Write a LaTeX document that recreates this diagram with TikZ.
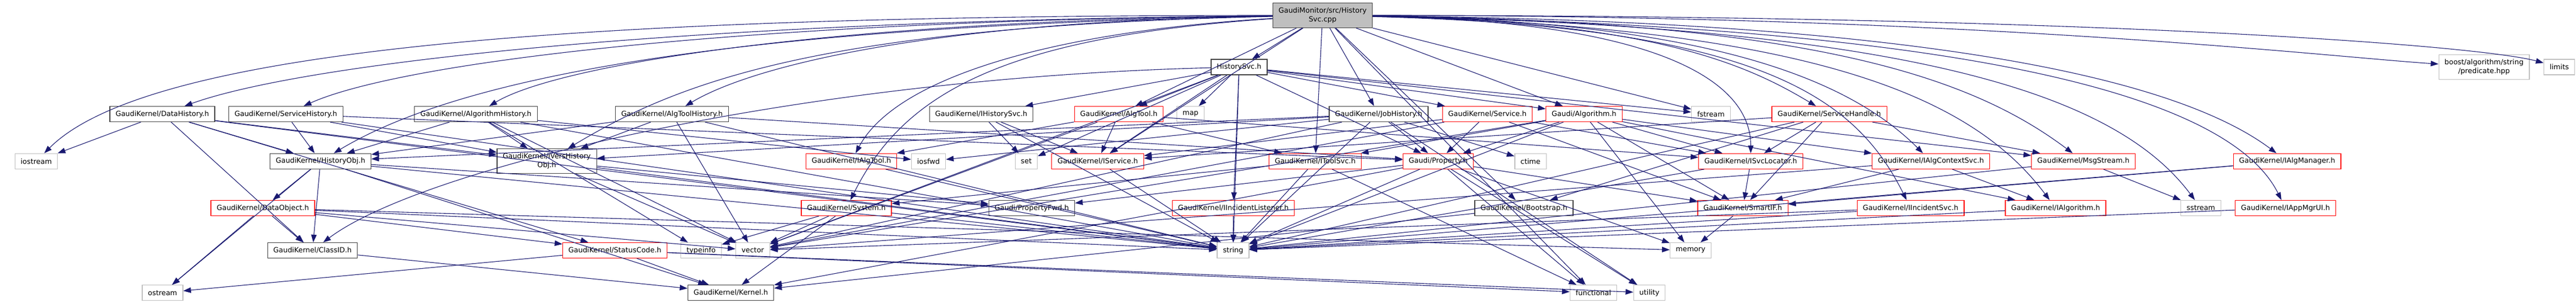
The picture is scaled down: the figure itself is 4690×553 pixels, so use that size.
\documentclass[tikz,border=0pt]{standalone}
\usepackage{fontspec}
\setmainfont{DejaVu Sans}
\usetikzlibrary{arrows.meta}
\definecolor{edgeblue}{HTML}{191970}
\definecolor{sysgray}{HTML}{BFBFBF}
\definecolor{docgray}{HTML}{404040}
\tikzset{
every node/.style={ % Sets the properties for each file box
font=\fontsize{12.9}{16}\selectfont,
align=center,
inner xsep=10.5pt,
inner ysep=4pt,
minimum height=28pt,
line width=1.2pt},
file/.style={draw=docgray},
trunc/.style={draw=red}, % Red boxes: not all includes shown
sys/.style={draw=sysgray},
mainfile/.style={draw=docgray, fill=sysgray},
tall/.style={minimum height=45pt},
incl/.style={ % Sets the properties for each include
draw=edgeblue,
-{Triangle[length=14pt,width=10pt]},
line width=1.1pt},
every edge/.style={incl}}
\begin{document}
\begin{tikzpicture}[x=1pt,y=-1pt]
\useasboundingbox (0,0) rectangle (4690,553);
% top
\node[mainfile, tall] (root) at (2408,28) {GaudiMonitor/src/History\\Svc.cpp};
\node[file] (hsvc) at (2256,122) {HistorySvc.h};
\node[sys, tall] (boost) at (4522.5,122) {boost/algorithm/string\\/predicate.hpp};
\node[sys] (limits) at (4659.5,122) {limits};
% row 1
\node[file] (datahist) at (295.5,207.5) {GaudiKernel/DataHistory.h};
\node[file] (svchist) at (520.5,207.5) {GaudiKernel/ServiceHistory.h};
\node[file] (alghist) at (866.5,207.5) {GaudiKernel/AlgorithmHistory.h};
\node[file] (tlhist) at (1223.5,207.5) {GaudiKernel/AlgToolHistory.h};
\node[file] (ihsvc) at (1786.5,207.5) {GaudiKernel/IHistorySvc.h};
\node[trunc] (algtool) at (2037,207.5) {GaudiKernel/AlgTool.h};
\node[sys] (map) at (2167.5,207.5) {map};
\node[file] (jobhist) at (2510,207.5) {GaudiKernel/JobHistory.h};
\node[trunc] (service) at (2708,207.5) {GaudiKernel/Service.h};
\node[trunc] (algorithm) at (2884,207.5) {Gaudi/Algorithm.h};
\node[sys] (fstream) at (3115,207.5) {fstream};
\node[trunc] (svchandle) at (3330.5,207.5) {GaudiKernel/ServiceHandle.h};
% row 2
\node[sys] (iostream) at (66,293.3) {iostream};
\node[file] (histobj) at (583.5,293.3) {GaudiKernel/HistoryObj.h};
\node[file, tall] (iversobj) at (995.5,293.3) {GaudiKernel/IVersHistory\\Obj.h};
\node[trunc] (ialgtool) at (1550,293.3) {GaudiKernel/IAlgTool.h};
\node[sys] (iosfwd) at (1690.5,293.3) {iosfwd};
\node[sys] (set) at (1868.5,293.3) {set};
\node[trunc] (iservice) at (1998.5,293.3) {GaudiKernel/IService.h};
\node[trunc] (itoolsvc) at (2394.5,293.3) {GaudiKernel/IToolSvc.h};
\node[trunc] (property) at (2618.5,293.3) {Gaudi/Property.h};
\node[sys] (ctime) at (2786.5,293.3) {ctime};
\node[trunc] (isvcloc) at (3187.5,293.3) {GaudiKernel/ISvcLocator.h};
\node[trunc] (ialgctx) at (3515.5,293.3) {GaudiKernel/IAlgContextSvc.h};
\node[trunc] (msgstream) at (3793,293.3) {GaudiKernel/MsgStream.h};
\node[trunc] (ialgmgr) at (4164,293.3) {GaudiKernel/IAlgManager.h};
% row 3
\node[trunc] (dataobj) at (478.5,378.5) {GaudiKernel/DataObject.h};
\node[trunc] (system) at (1541,378.5) {GaudiKernel/System.h};
\node[file] (propfwd) at (1878.5,378.5) {Gaudi/PropertyFwd.h};
\node[trunc] (iinclist) at (2245.5,378.5) {GaudiKernel/IIncidentListener.h};
\node[file] (bootstrap) at (2774.5,378.5) {GaudiKernel/Bootstrap.h};
\node[trunc] (smartif) at (3173,378.5) {GaudiKernel/SmartIF.h};
\node[trunc] (iincsvc) at (3478.5,378.5) {GaudiKernel/IIncidentSvc.h};
\node[trunc] (ialgorithm) at (3742.5,378.5) {GaudiKernel/IAlgorithm.h};
\node[sys] (sstream) at (4007,378.5) {sstream};
\node[trunc] (iappmgr) at (4161,378.5) {GaudiKernel/IAppMgrUI.h};
% row 4
\node[file] (classid) at (569,455.5) {GaudiKernel/ClassID.h};
\node[trunc] (statuscode) at (1119.5,455.5) {GaudiKernel/StatusCode.h};
\node[sys] (typeinfo) at (1276.5,455.5) {typeinfo};
\node[sys] (vector) at (1370.5,455.5) {vector};
\node[sys] (string) at (2245,455.5) {string};
\node[sys] (memory) at (3078,455.5) {memory};
% row 5
\node[sys] (ostream) at (296,532.6) {ostream};
\node[file] (kernel) at (1330.5,532.6) {GaudiKernel/Kernel.h};
\node[sys] (functional) at (2901,532.6) {functional};
\node[sys] (utility) at (3003,532.6) {utility};
% includes of the main file
\draw (root) edge (hsvc) edge (jobhist) edge (algtool) edge (iservice) edge (itoolsvc)
  edge (algorithm) edge (bootstrap) edge (functional) edge (fstream);
% long ones, arched over the rows
\draw[incl] (root) .. controls +(-1400,0) and +(200,-200) .. (iostream);
\draw[incl] (root) .. controls +(-1200,10) and +(250,-90) .. (datahist);
\draw[incl] (root) .. controls +(-1100,10) and +(200,-90) .. (svchist);
\draw[incl] (root) .. controls +(-900,10) and +(150,-90) .. (alghist);
\draw[incl] (root) .. controls +(-700,10) and +(150,-90) .. (tlhist);
\draw[incl] (root) .. controls +(-1100,20) and +(250,-150) .. (histobj);
\draw[incl] (root) .. controls +(-900,20) and +(250,-150) .. (iversobj);
\draw[incl] (root) .. controls +(-600,40) and +(100,-200) .. (system);
\draw[incl] (root) .. controls +(-500,30) and +(80,-150) .. (ialgtool);
\draw[incl] (root) .. controls +(600,10) and +(-150,-90) .. (svchandle);
\draw[incl] (root) .. controls +(600,10) and +(0,-150) .. (isvcloc);
\draw[incl] (root) .. controls +(700,10) and +(-150,-150) .. (ialgctx);
\draw[incl] (root) .. controls +(900,10) and +(-200,-150) .. (msgstream);
\draw[incl] (root) .. controls +(1100,10) and +(-200,-150) .. (ialgmgr);
\draw[incl] (root) .. controls +(800,20) and +(-100,-200) .. (iincsvc);
\draw[incl] (root) .. controls +(900,20) and +(-150,-200) .. (ialgorithm);
\draw[incl] (root) .. controls +(1100,20) and +(-150,-200) .. (sstream);
\draw[incl] (root) .. controls +(1200,20) and +(-100,-200) .. (iappmgr);
\draw[incl] (root) .. controls +(1200,0) and +(-300,-20) .. (boost);
\draw[incl] (root) .. controls +(1400,0) and +(-150,-40) .. (limits);
% the other files
\draw (hsvc) edge (ihsvc) edge (algtool) edge (map) edge (set) edge (iservice)
  edge (service) edge (algorithm) edge (iinclist) edge (fstream)
  edge (string) edge (vector) edge (property) edge (msgstream);
\draw[incl] (hsvc) .. controls +(-800,20) and +(200,-150) .. (classid);
\draw (jobhist) edge (histobj) edge (iversobj) edge (property) edge (ctime)
  edge (iosfwd) edge (string) edge (utility) edge (vector);
\draw (svchist) edge (histobj) edge (iversobj) edge (property) edge (string);
\draw (alghist) edge (histobj) edge (iversobj) edge (iosfwd) edge (string)
  edge (typeinfo) edge (vector);
\draw (tlhist) edge (histobj) edge (iversobj) edge (property) edge (string) edge (vector);
\draw (datahist) edge (iostream) edge (histobj) edge (iversobj) edge (classid)
  edge (statuscode) edge (string);
\draw (histobj) edge (dataobj) edge (ostream) edge (classid) edge (kernel)
  edge (propfwd) edge (string);
\draw (iversobj) edge (vector) edge (string) edge (propfwd);
\draw (dataobj) edge (classid) edge (ostream) edge (statuscode) edge (string)
  edge (vector) edge (memory);
\draw (classid) edge (kernel);
\draw (statuscode) edge (kernel) edge (ostream) edge (functional) edge (utility);
\draw (system) edge (kernel) edge (typeinfo) edge (vector) edge (string);
\draw (ialgtool) edge (string);
\draw (ihsvc) edge (iservice) edge (set) edge (string);
\draw (algtool) edge (ialgtool) edge (iservice) edge (itoolsvc) edge (isvcloc) edge (vector);
\draw (iservice) edge (string);
\draw (itoolsvc) edge (system) edge (string) edge (functional);
\draw (property) edge (propfwd) edge (kernel) edge (smartif) edge (string)
  edge (memory) edge (utility) edge (functional);
\draw (isvcloc) edge (smartif) edge (string);
\draw (smartif) edge (memory);
\draw (svchandle) edge (isvcloc) edge (smartif) edge (msgstream) edge (iservice)
  edge (bootstrap) edge (string);
\draw (ialgctx) edge (ialgorithm) edge (smartif) edge (vector);
\draw (msgstream) edge (sstream) edge (string);
\draw (iincsvc) edge (string) edge (vector);
\draw (ialgorithm) edge (string);
\draw (ialgmgr) edge (smartif) edge (string);
\draw (iappmgr) edge (string);
\draw (iinclist) edge (string);
\draw (bootstrap) edge (kernel);
\draw (algorithm) edge (itoolsvc) edge (property) edge (isvcloc) edge (ialgorithm)
  edge (ialgctx) edge (string) edge (vector) edge (smartif) edge (memory);
\draw (service) edge (property) edge (iservice) edge (isvcloc) edge (smartif) edge (vector);
\end{tikzpicture}
\end{document}
